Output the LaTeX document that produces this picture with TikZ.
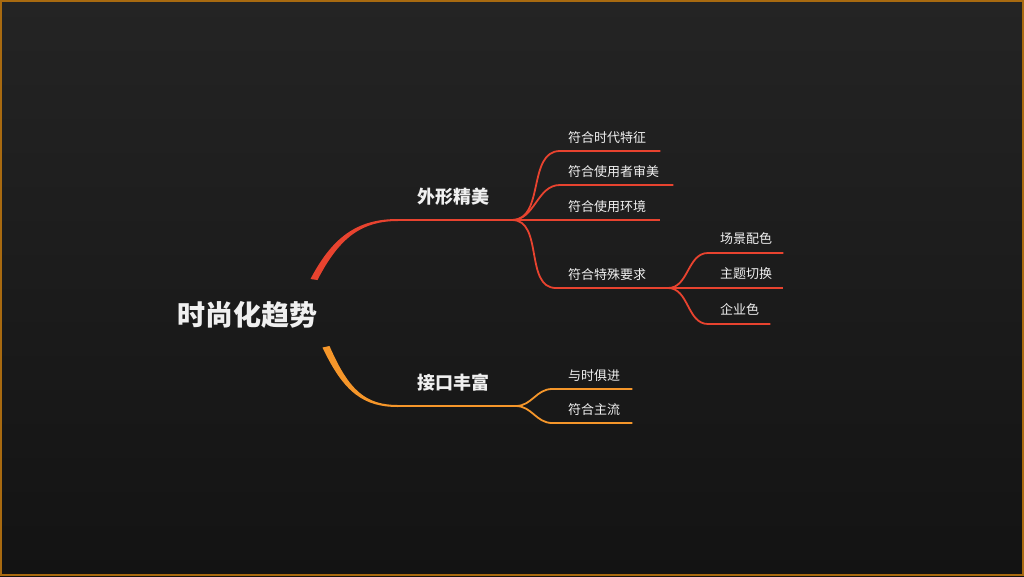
\documentclass[tikz,border=0pt]{standalone}
\usepackage{fontspec}
\setmainfont{Noto Sans CJK SC}
\usetikzlibrary{positioning}
\definecolor{BgTop}{HTML}{242424}
\definecolor{BgBottom}{HTML}{131313}
\definecolor{FrameGold}{HTML}{A86A10}
\definecolor{TrendRed}{HTML}{E8432F}
\definecolor{TrendOrange}{HTML}{F5962A}
\definecolor{SoftWhite}{HTML}{F0F0F0}

\begin{document}
\begin{tikzpicture}[x=1pt, y=-1pt,
  rootlabel/.style={text=SoftWhite, inner sep=0pt, font=\fontsize{28}{32}\selectfont\bfseries},
  topic/.style={text=SoftWhite, inner sep=0pt, anchor=west, font=\fontsize{18}{22}\selectfont\bfseries},
  leaf/.style={text=SoftWhite, inner sep=0pt, font=\fontsize{13}{16}\selectfont},
  redline/.style={TrendRed, line width=1.8pt},
  orangeline/.style={TrendOrange, line width=1.8pt}
]
  \useasboundingbox (0,0) rectangle (1024,576);
  \shade[top color=BgTop, bottom color=BgBottom] (0,0) rectangle (1024,576);
  \draw[FrameGold, line width=2pt] (1,1) rectangle (1023,575);

  % centre and main branches
  \node[rootlabel] (root) at (247,315) {时尚化趋势};
  \coordinate (j1) at (512,220);
  \coordinate (j3) at (516,406);
  \fill[TrendRed] (310.5,279) .. controls (334,234) and (360,219) .. (398,219)
    -- (398,221) .. controls (363,221) and (340,236) .. (317.5,280) -- cycle;
  \draw[redline] (398,220) -- (j1);
  \fill[TrendOrange] (322.5,347.5) .. controls (344,393) and (364,407) .. (398,407)
    -- (398,405) .. controls (366,405) and (349,391) .. (329.5,346) -- cycle;
  \draw[orangeline] (398,406) -- (j3);
  \node[topic] (shape) at (417,197) {外形精美};
  \node[topic] (port) at (417,383) {接口丰富};

  % 外形精美
  \coordinate (a1) at (560,151);
  \coordinate (a2) at (560,185);
  \coordinate (a3) at (560,220);
  \coordinate (a4) at (556,288);
  \node[leaf, above right=7.5pt and 8pt of a1] (t1) {符合时代特征};
  \node[leaf, above right=7.5pt and 8pt of a2] (t2) {符合使用者审美};
  \node[leaf, above right=7.5pt and 8pt of a3] (t3) {符合使用环境};
  \node[leaf, above right=7.5pt and 12pt of a4] (t4) {符合特殊要求};
  \draw[redline] (j1) to[out=0, in=180] (a1) -- (a1 -| t1.east) -- ++(14,0);
  \draw[redline] (j1) to[out=0, in=180] (a2) -- (a2 -| t2.east) -- ++(14,0);
  \draw[redline] (j1) -- (a3) -- (a3 -| t3.east) -- ++(14,0);
  \coordinate (j2) at (668,288);
  \draw[redline] (j1) to[out=0, in=180] (a4) -- (j2);

  % 符合特殊要求
  \coordinate (b1) at (708,253);
  \coordinate (b2) at (708,288);
  \coordinate (b3) at (708,324);
  \node[leaf, above right=8.5pt and 12pt of b1] (u1) {场景配色};
  \node[leaf, above right=8.5pt and 12pt of b2] (u2) {主题切换};
  \node[leaf, above right=8.5pt and 12pt of b3] (u3) {企业色};
  \draw[redline] (j2) to[out=0, in=180] (b1) -- (b1 -| u1.east) -- ++(11,0);
  \draw[redline] (j2) -- (b2) -- (b2 -| u2.east) -- ++(11,0);
  \draw[redline] (j2) to[out=0, in=180] (b3) -- (b3 -| u3.east) -- ++(11,0);

  % 接口丰富
  \coordinate (c1) at (552,389);
  \coordinate (c2) at (552,423);
  \node[leaf, above right=7.5pt and 16pt of c1] (v1) {与时俱进};
  \node[leaf, above right=7.5pt and 16pt of c2] (v2) {符合主流};
  \draw[orangeline] (j3) to[out=0, in=180] (c1) -- (c1 -| v1.east) -- ++(12,0);
  \draw[orangeline] (j3) to[out=0, in=180] (c2) -- (c2 -| v2.east) -- ++(12,0);
\end{tikzpicture}
\end{document}
